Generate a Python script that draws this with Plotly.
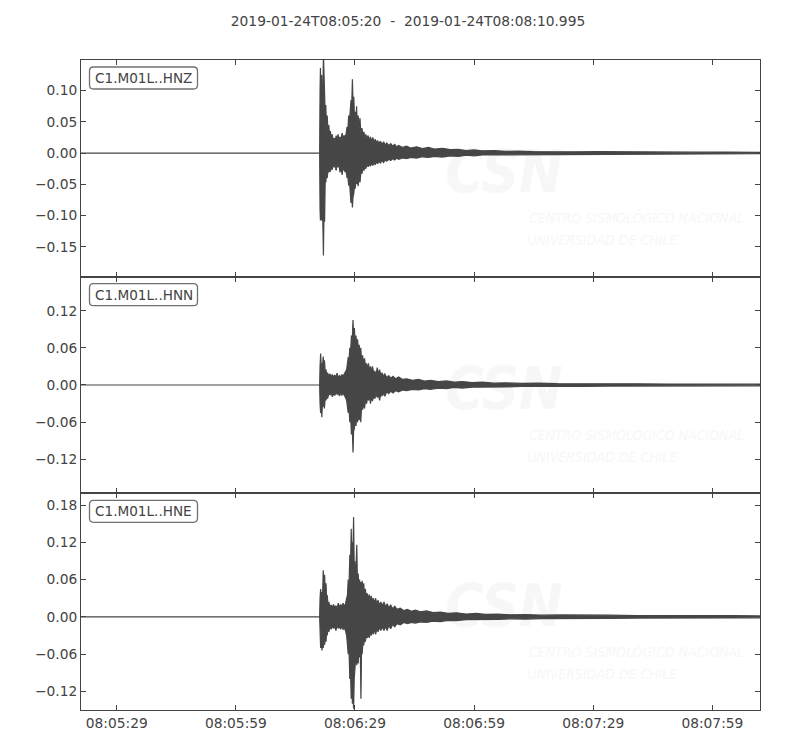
import plotly.graph_objects as go
from plotly.subplots import make_subplots
import pandas as pd

# ---------------- data ----------------
START = "2019-01-24 08:05:20"
END_SECONDS = 170.995
title_text = "2019-01-24T08:05:20  -  2019-01-24T08:08:10.995"
channels = ["C1.M01L..HNZ", "C1.M01L..HNN", "C1.M01L..HNE"]

# envelope of each trace: seconds after START, upper / lower amplitude
hnz_t = [0, 60.10, 60.20, 60.30, 60.45, 60.60, 60.75, 60.90, 61.05, 61.20, 61.35, 61.50, 61.65, 61.80,
         62.00, 62.20, 62.40, 62.60, 62.80, 63.00, 63.25, 63.50, 63.75, 64.00, 64.25, 64.50, 64.75,
         65.00, 65.25, 65.50, 65.75, 66.00, 66.25, 66.50, 66.75, 67.00, 67.20, 67.40, 67.60, 67.80,
         68.00, 68.15, 68.35, 68.50, 68.70, 68.90, 69.05, 69.25, 69.40, 69.60, 69.80, 70.00, 70.25,
         70.50, 70.75, 71.00, 71.25, 71.50, 71.75, 72.00, 72.30, 72.60, 72.90, 73.20, 73.50, 73.80,
         74.10, 74.40, 74.70, 75.00, 75.40, 75.80, 76.20, 76.60, 77.00, 77.50, 78.00, 78.50, 79.00,
         79.50, 80.00, 81.00, 82.00, 83.00, 84.50, 86.00, 87.50, 89.00, 91.00, 93.00, 95.00, 97.00,
         99.00, 101.0, 104.0, 107.0, 110.0, 114.0, 118.0, 124.0, 130.0, 138.0, 146.0, 155.0, 163.0,
         170.995]
hnz_up = [0, 0, 0.100, 0.136, 0.080, 0.125, 0.070, 0.090, 0.160, 0.110, 0.120, 0.060, 0.077, 0.045,
          0.060, 0.035, 0.045, 0.028, 0.035, 0.024, 0.030, 0.020, 0.024, 0.018, 0.028, 0.022, 0.030,
          0.020, 0.026, 0.021, 0.032, 0.024, 0.028, 0.026, 0.030, 0.042, 0.035, 0.060, 0.050, 0.065,
          0.085, 0.070, 0.118, 0.080, 0.090, 0.050, 0.066, 0.045, 0.075, 0.040, 0.060, 0.038, 0.056,
          0.030, 0.040, 0.028, 0.034, 0.024, 0.030, 0.022, 0.028, 0.020, 0.026, 0.018, 0.025, 0.017,
          0.022, 0.016, 0.020, 0.015, 0.019, 0.014, 0.018, 0.013, 0.016, 0.012, 0.015, 0.011, 0.014,
          0.010, 0.012, 0.009, 0.011, 0.008, 0.010, 0.007, 0.009, 0.0065, 0.0075, 0.0055, 0.006, 0.004,
          0.005, 0.0035, 0.004, 0.0028, 0.0032, 0.0024, 0.0027, 0.002, 0.0022, 0.0016, 0.0018, 0.0013, 0.0015,
          0.0012]
hnz_lo = [0, 0, -0.090, -0.108, -0.070, -0.108, -0.050, -0.060, -0.164, -0.090, -0.110, -0.040, -0.047, -0.035,
          -0.040, -0.028, -0.031, -0.024, -0.030, -0.020, -0.027, -0.018, -0.022, -0.020, -0.028, -0.018, -0.022,
          -0.020, -0.031, -0.022, -0.035, -0.024, -0.026, -0.030, -0.028, -0.040, -0.036, -0.052, -0.045, -0.062,
          -0.080, -0.060, -0.087, -0.070, -0.065, -0.050, -0.057, -0.040, -0.050, -0.042, -0.053, -0.035, -0.047,
          -0.030, -0.033, -0.024, -0.028, -0.022, -0.025, -0.018, -0.022, -0.018, -0.021, -0.016, -0.020, -0.015,
          -0.019, -0.014, -0.017, -0.013, -0.016, -0.012, -0.015, -0.011, -0.013, -0.010, -0.012, -0.009, -0.011,
          -0.008, -0.010, -0.008, -0.009, -0.007, -0.008, -0.006, -0.007, -0.0055, -0.0065, -0.0045, -0.0055, -0.0035,
          -0.0045, -0.003, -0.0035, -0.0025, -0.003, -0.0022, -0.0025, -0.0018, -0.002, -0.0015, -0.0016, -0.0012, -0.0013,
          -0.0011]

hnn_t = [0, 60.10, 60.20, 60.35, 60.50, 60.65, 60.80, 61.00, 61.15, 61.30, 61.50, 61.70, 61.90, 62.10,
         62.40, 62.70, 63.00, 63.30, 63.60, 63.90, 64.20, 64.50, 64.80, 65.10, 65.40, 65.70, 66.00,
         66.30, 66.60, 66.90, 67.10, 67.30, 67.50, 67.70, 67.90, 68.10, 68.30, 68.50, 68.65, 68.85,
         69.05, 69.25, 69.45, 69.65, 69.85, 70.05, 70.25, 70.45, 70.65, 70.90, 71.15, 71.40, 71.65,
         71.90, 72.15, 72.40, 72.65, 72.90, 73.15, 73.40, 73.70, 74.00, 74.30, 74.60, 74.90, 75.20,
         75.50, 75.80, 76.10, 76.50, 77.00, 77.50, 78.00, 78.60, 79.20, 80.00, 81.00, 82.00, 83.50,
         85.00, 86.50, 88.00, 90.00, 92.00, 94.00, 96.00, 98.50, 101.0, 104.0, 107.0, 111.0, 115.0,
         120.0, 126.0, 133.0, 140.0, 148.0, 156.0, 164.0, 170.995]
hnn_up = [0, 0, 0.030, 0.051, 0.030, 0.035, 0.028, 0.046, 0.030, 0.040, 0.022, 0.025, 0.016, 0.020,
          0.014, 0.018, 0.013, 0.017, 0.012, 0.016, 0.013, 0.019, 0.012, 0.015, 0.013, 0.017, 0.014,
          0.017, 0.020, 0.025, 0.035, 0.045, 0.040, 0.060, 0.055, 0.080, 0.070, 0.105, 0.080, 0.092,
          0.065, 0.080, 0.060, 0.074, 0.055, 0.065, 0.048, 0.060, 0.040, 0.048, 0.035, 0.043, 0.030,
          0.035, 0.025, 0.035, 0.022, 0.030, 0.020, 0.030, 0.020, 0.022, 0.016, 0.028, 0.017, 0.025,
          0.015, 0.020, 0.014, 0.018, 0.012, 0.015, 0.011, 0.014, 0.010, 0.013, 0.009, 0.010, 0.0075,
          0.009, 0.0065, 0.0075, 0.0055, 0.0065, 0.0045, 0.0055, 0.004, 0.0045, 0.003, 0.0035, 0.0025, 0.003,
          0.0021, 0.0024, 0.0018, 0.002, 0.0015, 0.0017, 0.0013, 0.0014]
hnn_lo = [0, 0, -0.030, -0.045, -0.030, -0.052, -0.030, -0.035, -0.025, -0.038, -0.020, -0.025, -0.016, -0.022,
          -0.014, -0.016, -0.013, -0.019, -0.014, -0.017, -0.012, -0.015, -0.013, -0.018, -0.012, -0.017, -0.013,
          -0.017, -0.020, -0.025, -0.030, -0.045, -0.038, -0.060, -0.050, -0.080, -0.065, -0.109, -0.075, -0.070,
          -0.055, -0.066, -0.050, -0.060, -0.045, -0.057, -0.045, -0.060, -0.035, -0.040, -0.030, -0.038, -0.025,
          -0.030, -0.022, -0.024, -0.020, -0.030, -0.018, -0.026, -0.018, -0.022, -0.015, -0.020, -0.016, -0.025,
          -0.014, -0.018, -0.013, -0.018, -0.011, -0.014, -0.010, -0.013, -0.009, -0.011, -0.008, -0.009, -0.007,
          -0.008, -0.006, -0.007, -0.005, -0.006, -0.004, -0.005, -0.0035, -0.004, -0.003, -0.0032, -0.0024, -0.0027,
          -0.002, -0.0022, -0.0017, -0.0019, -0.0014, -0.0016, -0.0012, -0.0013]

hne_t = [0, 60.10, 60.20, 60.35, 60.50, 60.70, 60.85, 61.00, 61.15, 61.35, 61.50, 61.70, 61.85, 62.00,
         62.20, 62.40, 62.70, 63.00, 63.30, 63.60, 63.90, 64.20, 64.50, 64.80, 65.10, 65.40, 65.70,
         66.00, 66.30, 66.60, 66.90, 67.10, 67.30, 67.50, 67.70, 67.90, 68.05, 68.20, 68.35, 68.50,
         68.65, 68.80, 68.95, 69.10, 69.25, 69.45, 69.60, 69.80, 69.95, 70.15, 70.35, 70.50, 70.65,
         70.80, 71.00, 71.20, 71.40, 71.60, 71.85, 72.10, 72.35, 72.60, 72.85, 73.10, 73.35, 73.60,
         73.90, 74.20, 74.50, 74.80, 75.10, 75.50, 75.90, 76.30, 76.70, 77.10, 77.50, 78.00, 78.50,
         79.00, 79.60, 80.40, 81.30, 82.20, 83.20, 84.20, 85.50, 87.00, 88.70, 90.50, 92.50, 94.50,
         97.00, 99.50, 102.0, 105.0, 108.0, 112.0, 116.0, 121.0, 127.0, 133.0, 140.0, 148.0, 156.0,
         164.0, 170.995]
hne_up = [0, 0, 0.030, 0.045, 0.030, 0.040, 0.035, 0.075, 0.055, 0.068, 0.040, 0.054, 0.030, 0.035,
          0.020, 0.024, 0.016, 0.019, 0.015, 0.020, 0.015, 0.018, 0.014, 0.022, 0.015, 0.020, 0.016,
          0.022, 0.018, 0.020, 0.030, 0.035, 0.060, 0.050, 0.100, 0.090, 0.142, 0.100, 0.120, 0.110,
          0.161, 0.080, 0.090, 0.060, 0.075, 0.116, 0.060, 0.070, 0.050, 0.060, 0.045, 0.056, 0.050,
          0.058, 0.040, 0.054, 0.035, 0.045, 0.032, 0.038, 0.028, 0.036, 0.025, 0.034, 0.024, 0.030,
          0.022, 0.030, 0.020, 0.027, 0.019, 0.024, 0.018, 0.024, 0.016, 0.021, 0.015, 0.019, 0.013,
          0.017, 0.012, 0.014, 0.010, 0.012, 0.009, 0.011, 0.008, 0.0095, 0.007, 0.0075, 0.0055, 0.0065,
          0.0045, 0.0055, 0.004, 0.0045, 0.0033, 0.0038, 0.0028, 0.0032, 0.0024, 0.0027, 0.002, 0.0023, 0.0017,
          0.0019, 0.0016]
hne_lo = [0, 0, -0.030, -0.050, -0.035, -0.054, -0.040, -0.050, -0.042, -0.045, -0.035, -0.040, -0.025, -0.030,
          -0.020, -0.024, -0.016, -0.020, -0.015, -0.018, -0.016, -0.022, -0.015, -0.018, -0.016, -0.020, -0.015,
          -0.020, -0.018, -0.022, -0.030, -0.034, -0.060, -0.055, -0.100, -0.095, -0.132, -0.110, -0.140, -0.120,
          -0.148, -0.100, -0.090, -0.073, -0.060, -0.078, -0.060, -0.075, -0.055, -0.065, -0.060, -0.132, -0.050,
          -0.060, -0.040, -0.046, -0.035, -0.040, -0.030, -0.034, -0.026, -0.034, -0.024, -0.030, -0.022, -0.028,
          -0.020, -0.028, -0.019, -0.024, -0.017, -0.022, -0.016, -0.022, -0.015, -0.022, -0.014, -0.019, -0.012,
          -0.016, -0.011, -0.013, -0.009, -0.011, -0.009, -0.010, -0.008, -0.009, -0.007, -0.0075, -0.0055, -0.006,
          -0.0045, -0.005, -0.004, -0.0042, -0.0032, -0.0035, -0.0027, -0.003, -0.0023, -0.0025, -0.002, -0.0021, -0.0016,
          -0.0018, -0.0015]

x_tick_seconds = [9, 39, 69, 99, 129, 159]
x_tick_labels = ["08:05:29", "08:05:59", "08:06:29", "08:06:59", "08:07:29", "08:07:59"]

hnz_yticks = [-0.15, -0.10, -0.05, 0.0, 0.05, 0.10]
hnz_ylabels = ["\u22120.15", "\u22120.10", "\u22120.05", "0.00", "0.05", "0.10"]
hnn_yticks = [-0.12, -0.06, 0.0, 0.06, 0.12]
hnn_ylabels = ["\u22120.12", "\u22120.06", "0.00", "0.06", "0.12"]
hne_yticks = [-0.12, -0.06, 0.0, 0.06, 0.12, 0.18]
hne_ylabels = ["\u22120.12", "\u22120.06", "0.00", "0.06", "0.12", "0.18"]

hnz_yrange = [-0.198, 0.149]
hnn_yrange = [-0.175, 0.175]
hne_yrange = [-0.150, 0.199]

watermark_big = "CSN"
watermark_line1 = "CENTRO SISMOLÓGICO NACIONAL"
watermark_line2 = "UNIVERSIDAD DE CHILE"

# ---------------- figure ----------------
base = pd.Timestamp(START)


def to_dt(secs):
    return [base + pd.Timedelta(seconds=s) for s in secs]


FONT = "DejaVu Sans, Arial, sans-serif"
GREY = "#444444"
TRACE = "#464646"
WM = "#f7f7f7"
WM_FONT = "DejaVu Sans Condensed, DejaVu Sans, sans-serif"

fig = make_subplots(rows=3, cols=1, shared_xaxes=True, vertical_spacing=0)

traces = [
    (hnz_t, hnz_up, hnz_lo, hnz_yticks, hnz_ylabels, hnz_yrange),
    (hnn_t, hnn_up, hnn_lo, hnn_yticks, hnn_ylabels, hnn_yrange),
    (hne_t, hne_up, hne_lo, hne_yticks, hne_ylabels, hne_yrange),
]

panel_h = 216.7  # px height of one panel
for i, (t, up, lo, yt, yl, yr) in enumerate(traces):
    row = i + 1
    span = yr[1] - yr[0]

    def yfrac(px_from_top):
        return yr[1] - px_from_top / panel_h * span

    # faint watermark (drawn below the waveform)
    fig.add_trace(go.Scatter(
        x=to_dt([106.5]), y=[yfrac(118)], mode="text", text=[watermark_big],
        textfont=dict(family=WM_FONT, size=58, color=WM, weight="bold", style="italic"),
        hoverinfo="skip", showlegend=False), row=row, col=1)
    fig.add_trace(go.Scatter(
        x=to_dt([112.8, 112.4]), y=[yfrac(160), yfrac(182)], mode="text",
        text=[watermark_line1, watermark_line2], textposition="middle right",
        textfont=dict(family=WM_FONT, size=14, color=WM, style="italic"),
        hoverinfo="skip", showlegend=False), row=row, col=1)

    xs = to_dt(t)
    fig.add_trace(go.Scatter(
        x=xs + xs[::-1], y=up + lo[::-1], mode="lines", fill="toself",
        fillcolor=TRACE, line=dict(color=TRACE, width=1.2),
        hoverinfo="skip", showlegend=False), row=row, col=1)

    fig.update_yaxes(range=yr, tickvals=yt, ticktext=yl, row=row, col=1)

    # rounded label box
    w, h, r, x0, y0 = 108, 22, 4, 8.5, -7
    x1, y1 = x0 + w, y0 - h
    path = (f"M{x0+r},{y0} L{x1-r},{y0} Q{x1},{y0} {x1},{y0-r} L{x1},{y1+r} Q{x1},{y1} {x1-r},{y1} "
            f"L{x0+r},{y1} Q{x0},{y1} {x0},{y1+r} L{x0},{y0-r} Q{x0},{y0} {x0+r},{y0} Z")
    xref = "x domain" if row == 1 else f"x{row} domain"
    yref = "y domain" if row == 1 else f"y{row} domain"
    fig.add_shape(type="path", path=path, xref=xref, yref=yref,
                  xsizemode="pixel", ysizemode="pixel", xanchor=0, yanchor=1,
                  line=dict(color="#707070", width=1.3), fillcolor="white", layer="above")
    fig.add_annotation(text=channels[i], xref=xref, yref=yref, x=0, y=1,
                       xanchor="center", yanchor="middle", xshift=x0 + w / 2, yshift=y0 - h / 2,
                       showarrow=False, font=dict(family=FONT, size=13.6, color=GREY))

fig.update_yaxes(showgrid=False, zeroline=False, showline=True, linecolor=GREY, linewidth=1,
                 mirror="allticks", ticks="inside", ticklen=5, tickcolor=GREY,
                 tickfont=dict(family=FONT, size=13.8, color=GREY))
fig.update_xaxes(type="date", range=[base, base + pd.Timedelta(seconds=END_SECONDS)],
                 tickvals=to_dt(x_tick_seconds), ticktext=x_tick_labels,
                 showgrid=False, zeroline=False, showline=True, linecolor=GREY, linewidth=1,
                 mirror="allticks", ticks="inside", ticklen=5, tickcolor=GREY,
                 tickfont=dict(family=FONT, size=13.8, color=GREY))
fig.update_xaxes(showticklabels=False, row=1, col=1)
fig.update_xaxes(showticklabels=False, row=2, col=1)
fig.update_xaxes(showticklabels=True, row=3, col=1)

# the page adds an 8 px body margin, so offsets are reduced accordingly
fig.update_layout(
    width=800, height=750,
    margin=dict(l=73, r=48, t=52, b=48),
    paper_bgcolor="white", plot_bgcolor="white",
    title=dict(text=title_text, x=0.5, xanchor="center", y=1 - 13 / 750, yanchor="middle",
               yref="container", font=dict(family=FONT, size=13.8, color=GREY)),
    showlegend=False,
)

fig.write_html("out.html")
